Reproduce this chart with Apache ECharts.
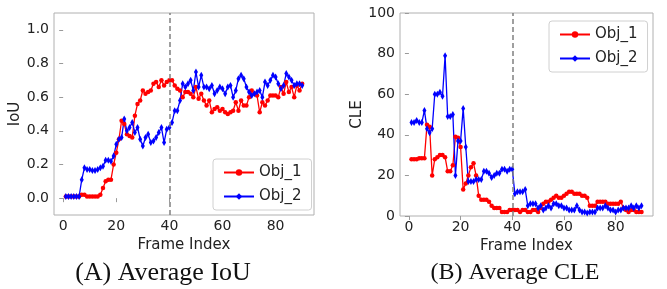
<!DOCTYPE html>
<html>
<head>
<meta charset="utf-8">
<script src="https://cdn.jsdelivr.net/npm/echarts@6/dist/echarts.min.js"></script>
<style>
  html, body { margin: 0; padding: 0; background: #fff; }
  #chart { width: 667px; height: 289px; }
</style>
</head>
<body>
<div id="chart"></div>
<script>
// frame index 1..90
const frames = Array.from({ length: 90 }, (_, i) => i + 1)
const xTicks = [0, 20, 40, 60, 80]
const iouTicks = [0, 0.2, 0.4, 0.6, 0.8, 1.0]
const cleTicks = [0, 20, 40, 60, 80, 100]

// (A) average IoU
const iouObj1 = [
  0.01, 0.01, 0.01, 0.01, 0.01, 0.01, 0.02, 0.02, 0.01, 0.01,
  0.01, 0.01, 0.01, 0.02, 0.06, 0.10, 0.11, 0.11, 0.20, 0.27,
  0.35, 0.46, 0.44, 0.38, 0.37, 0.36, 0.49, 0.56, 0.58, 0.64,
  0.62, 0.63, 0.64, 0.68, 0.69, 0.66, 0.70, 0.67, 0.69, 0.70,
  0.70, 0.67, 0.65, 0.64, 0.60, 0.63, 0.63, 0.62, 0.60, 0.66,
  0.59, 0.62, 0.58, 0.55, 0.58, 0.51, 0.53, 0.54, 0.52, 0.53,
  0.51, 0.50, 0.51, 0.52, 0.57, 0.52, 0.58, 0.55, 0.55, 0.60,
  0.64, 0.62, 0.61, 0.51, 0.57, 0.55, 0.58, 0.61, 0.61, 0.61,
  0.60, 0.66, 0.62, 0.69, 0.63, 0.66, 0.60, 0.67, 0.64, 0.68
]
const iouObj2 = [
  0.01, 0.01, 0.01, 0.01, 0.01, 0.01, 0.11, 0.18, 0.17, 0.17,
  0.165, 0.165, 0.17, 0.18, 0.19, 0.225, 0.225, 0.22, 0.25, 0.32,
  0.35, 0.36, 0.47, 0.40, 0.42, 0.45, 0.39, 0.42, 0.35, 0.31,
  0.36, 0.38, 0.33, 0.34, 0.36, 0.39, 0.42, 0.33, 0.41, 0.42,
  0.45, 0.52, 0.52, 0.58, 0.68, 0.66, 0.68, 0.70, 0.64, 0.75,
  0.66, 0.73, 0.66, 0.66, 0.65, 0.67, 0.62, 0.64, 0.66, 0.65,
  0.62, 0.66, 0.67, 0.60, 0.64, 0.71, 0.73, 0.71, 0.66, 0.63,
  0.61, 0.62, 0.63, 0.64, 0.60, 0.69, 0.67, 0.70, 0.73, 0.72,
  0.68, 0.65, 0.67, 0.74, 0.72, 0.70, 0.67, 0.68, 0.68, 0.67
]

// (B) average CLE
const cleObj1 = [
  28, 28, 28, 28.5, 28.5, 28.5, 45, 44, 20, 28,
  29, 30, 30, 29, 22, 22, 25, 39, 38.5, 34,
  13, 16, 20, 24, 26, 20, 10, 8, 8, 8,
  7, 5, 4, 4, 4, 2, 2, 2, 3, 3,
  3, 3, 2, 3, 3, 2, 2, 3, 3, 2,
  4, 6, 7, 7, 8, 9, 10, 9, 9, 10,
  11, 12, 12, 11, 11, 11, 10, 10, 9, 5,
  5, 5, 7, 7, 7, 7, 6, 6, 6, 6,
  6, 7, 4, 3, 2, 3, 3, 2, 2, 2
]
const cleObj2 = [
  46, 46, 47, 46, 46, 52, 43, 41, 43, 60,
  60, 61, 59, 79, 49, 49, 50, 20, 37, 37,
  53, 34, 17, 17, 17, 18, 18, 18, 22, 22,
  21, 19, 20, 21, 21, 23, 23, 22, 23, 23,
  11, 12, 12, 12, 13, 5, 6, 6, 6, 4,
  5, 3, 4, 5, 4, 6, 6, 5, 5, 4,
  4, 3, 3, 3, 5, 3, 2, 2, 1.5, 2,
  2, 2, 4, 4, 4, 5, 4, 3, 3, 2,
  3, 3, 4, 4, 4, 5, 4, 5, 4, 5
]

const pairs = (ys) => frames.map((f, i) => [f, ys[i]])

const axisGray = '#9a9a9a'
const tickFont = { color: '#222', fontSize: 14, fontFamily: 'DejaVu Sans' }
const nameFont = { color: '#222', fontSize: 15, fontFamily: 'DejaVu Sans' }

const xAxisBase = (gridIndex) => ({
  type: 'value',
  gridIndex,
  min: -3.45,
  max: 94.45,
  name: 'Frame Index',
  nameLocation: 'middle',
  nameGap: 18,
  nameTextStyle: nameFont,
  axisLine: { show: false },
  axisTick: { show: true, length: 4, lineStyle: { color: axisGray }, customValues: xTicks },
  axisLabel: { ...tickFont, margin: 4, customValues: xTicks },
  splitLine: { show: false }
})

// dashed line at frame 40
const deadline = {
  silent: true,
  symbol: 'none',
  label: { show: false },
  lineStyle: { color: '#808080', type: [5, 3], width: 1.5 },
  data: [{ xAxis: 40 }]
}

const lineSeries = (name, data, xi, yi, isBlue, withMark) => ({
  name,
  type: 'line',
  xAxisIndex: xi,
  yAxisIndex: yi,
  data,
  symbol: isBlue ? 'diamond' : 'circle',
  symbolSize: isBlue ? [4, 7] : 4.5,
  color: isBlue ? '#0000ff' : '#ff0000',
  lineStyle: { width: 1.3 },
  animation: false,
  markLine: withMark ? deadline : undefined
})

const legendBase = {
  orient: 'vertical',
  data: ['Obj_1', 'Obj_2'],
  backgroundColor: '#fff',
  borderColor: '#d0d0d0',
  borderWidth: 1,
  borderRadius: 3,
  padding: [6, 10, 6, 10],
  itemWidth: 30,
  itemHeight: 8,
  itemGap: 9,
  textStyle: { color: '#222', fontSize: 15, fontFamily: 'DejaVu Sans' }
}

const chart = echarts.init(document.getElementById('chart'))
chart.setOption({
  backgroundColor: '#fff',
  animation: false,
  grid: [
    { left: 54, top: 13, width: 260, height: 202, show: true, borderColor: '#b0b0b0', borderWidth: 1, backgroundColor: 'transparent' },
    { left: 400, top: 13, width: 253, height: 203, show: true, borderColor: '#b0b0b0', borderWidth: 1, backgroundColor: 'transparent' }
  ],
  xAxis: [xAxisBase(0), xAxisBase(1)],
  yAxis: [
    {
      type: 'value', gridIndex: 0, min: -0.1, max: 1.1,
      name: 'IoU', nameLocation: 'middle', nameGap: 28, nameTextStyle: nameFont,
      axisLine: { show: false },
      axisTick: { show: true, length: 4, lineStyle: { color: axisGray }, customValues: iouTicks },
      axisLabel: { ...tickFont, margin: 5, customValues: iouTicks, formatter: (v) => v.toFixed(1) },
      splitLine: { show: false }
    },
    {
      type: 'value', gridIndex: 1, min: 0, max: 100, interval: 20,
      name: 'CLE', nameLocation: 'middle', nameGap: 34, nameTextStyle: nameFont,
      axisLine: { show: false },
      axisTick: { show: true, length: 4, lineStyle: { color: axisGray }, customValues: cleTicks },
      axisLabel: { ...tickFont, margin: 5, customValues: cleTicks },
      splitLine: { show: false }
    }
  ],
  legend: [
    { ...legendBase, left: 213, top: 159 },
    { ...legendBase, left: 549, top: 21 }
  ],
  series: [
    lineSeries('Obj_1', pairs(iouObj1), 0, 0, false, true),
    lineSeries('Obj_2', pairs(iouObj2), 0, 0, true, false),
    lineSeries('Obj_1', pairs(cleObj1), 1, 1, false, true),
    lineSeries('Obj_2', pairs(cleObj2), 1, 1, true, false)
  ],
  graphic: [
    { type: 'text', x: 163, y: 273, style: { text: '(A) Average IoU', fontSize: 26, fontFamily: 'Liberation Serif', fill: '#111', align: 'center', verticalAlign: 'middle' } },
    { type: 'text', x: 515, y: 273, style: { text: '(B) Average CLE', fontSize: 24, fontFamily: 'Liberation Serif', fill: '#111', align: 'center', verticalAlign: 'middle' } }
  ]
})
</script>
</body>
</html>
